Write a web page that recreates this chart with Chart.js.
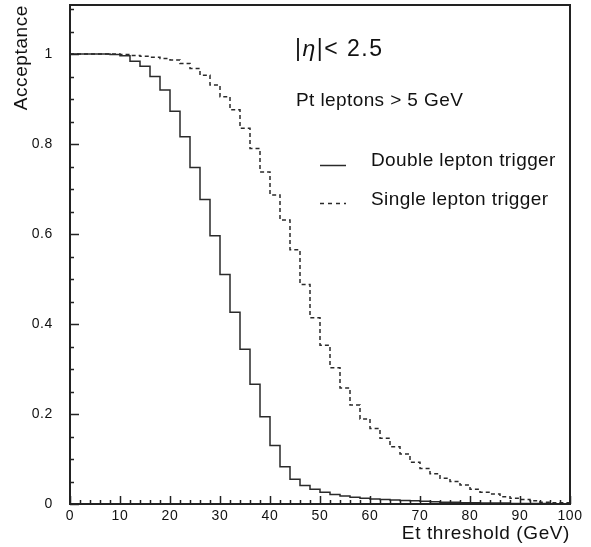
<!DOCTYPE html>
<html>
<head>
<meta charset="utf-8">
<script src="https://cdn.jsdelivr.net/npm/chart.js@4.4.1/dist/chart.umd.min.js"></script>
<style>
  html, body { margin: 0; padding: 0; background: #fff; }
  #wrap { width: 591px; height: 547px; position: relative; }
</style>
</head>
<body>
<div id="wrap"><canvas id="chart-acc"></canvas></div>
<script>
// lower edges of the 2 GeV bins, plus the last upper edge
let bin_edges = [0, 2, 4, 6, 8, 10, 12, 14, 16, 18, 20, 22, 24, 26, 28, 30, 32, 34, 36, 38,
  40, 42, 44, 46, 48, 50, 52, 54, 56, 58, 60, 62, 64, 66, 68, 70, 72, 74, 76, 78,
  80, 82, 84, 86, 88, 90, 92, 94, 96, 98, 100];

// acceptance per bin
let double_trigger = [1.000, 1.000, 1.000, 1.000, 1.000, 0.999, 0.996, 0.984, 0.973, 0.950,
  0.920, 0.873, 0.816, 0.748, 0.677, 0.596, 0.510, 0.426, 0.344, 0.266,
  0.194, 0.130, 0.083, 0.055, 0.041, 0.033, 0.026, 0.021, 0.018, 0.015,
  0.013, 0.011, 0.010, 0.009, 0.008, 0.007, 0.006, 0.005, 0.004, 0.004,
  0.003, 0.003, 0.002, 0.002, 0.002, 0.001, 0.001, 0.001, 0.001, 0.000];

let single_trigger = [1.000, 1.000, 1.000, 1.000, 1.000, 1.000, 0.999, 0.997, 0.995, 0.993,
  0.990, 0.987, 0.979, 0.968, 0.953, 0.931, 0.905, 0.876, 0.835, 0.790,
  0.738, 0.687, 0.631, 0.565, 0.488, 0.414, 0.353, 0.303, 0.258, 0.220,
  0.189, 0.168, 0.146, 0.127, 0.111, 0.093, 0.079, 0.067, 0.057, 0.050,
  0.042, 0.033, 0.026, 0.022, 0.016, 0.013, 0.010, 0.007, 0.004, 0.003];

let x_ticks = [0, 10, 20, 30, 40, 50, 60, 70, 80, 90, 100];
let y_ticks = [0, 0.2, 0.4, 0.6, 0.8, 1];
let y_tick_labels = ['0', '0.2', '0.4', '0.6', '0.8', '1'];

let line_color = '#2a2a2a';
let font_family = '"Liberation Sans", Arial, sans-serif';

// step points: each bin value starts at its lower edge, last one repeated at 100
function to_steps(values) {
  let pts = values.map(function(v, i) { return { x: bin_edges[i], y: v }; });
  pts.push({ x: bin_edges[bin_edges.length - 1], y: values[values.length - 1] });
  return pts;
}

// the old plot font is wide, so spread letters a little for every text
const spacing_plugin = {
  id: 'spacing',
  beforeDraw(chart) {
    chart.ctx.letterSpacing = '0.6px';
  }
};

// draw text pieces one after the other (lets eta be italic)
function draw_pieces(ctx, pieces, x, y) {
  pieces.forEach(function(p) {
    ctx.font = p.font;
    ctx.fillText(p.text, x, y);
    x += ctx.measureText(p.text).width;
  });
}

// frame, inward ticks and the text block inside the plot
const frame_plugin = {
  id: 'frame',
  afterDraw(chart) {
    let ctx = chart.ctx;
    let a = chart.chartArea;
    let xs = chart.scales.x;
    let ys = chart.scales.y;
    ctx.save();
    ctx.strokeStyle = '#222';
    ctx.lineWidth = 1.5;
    ctx.beginPath();
    for (let v = 0; v <= 100; v += 2) {
      let px = Math.round(xs.getPixelForValue(v)) + 0.5;
      let len = (v % 10 === 0) ? 8 : 4;
      ctx.moveTo(px, a.bottom);
      ctx.lineTo(px, a.bottom - len);
    }
    for (let k = 0; k <= 22; k++) {
      let v = k * 0.05;
      let py = Math.round(ys.getPixelForValue(v)) + 0.5;
      let len = (k % 4 === 0) ? 9 : 4;
      ctx.moveTo(a.left, py);
      ctx.lineTo(a.left + len, py);
    }
    ctx.stroke();

    ctx.lineWidth = 2;
    ctx.strokeRect(a.left, a.top, a.right - a.left, a.bottom - a.top);

    // annotation text
    ctx.fillStyle = '#111';
    ctx.textBaseline = 'alphabetic';
    ctx.textAlign = 'left';
    ctx.letterSpacing = '1.5px';
    draw_pieces(ctx, [
      { text: '|', font: '23px ' + font_family },
      { text: '\u03b7', font: 'italic 23px ' + font_family },
      { text: '|< 2.5', font: '23px ' + font_family }
    ], 295, 56);
    ctx.letterSpacing = '0.4px';
    ctx.font = '19px ' + font_family;
    ctx.fillText('Pt leptons > 5 GeV', 296, 106);
    ctx.fillText('Double lepton trigger', 371, 166);
    ctx.fillText('Single lepton trigger', 371, 205);

    // legend samples
    ctx.strokeStyle = line_color;
    ctx.lineWidth = 1.5;
    ctx.beginPath();
    ctx.moveTo(320, 165.5);
    ctx.lineTo(346, 165.5);
    ctx.stroke();
    ctx.setLineDash([4, 4]);
    ctx.beginPath();
    ctx.moveTo(320, 203.5);
    ctx.lineTo(346, 203.5);
    ctx.stroke();
    ctx.restore();
  }
};

let ctx1 = document.getElementById('chart-acc').getContext('2d');

new Chart(ctx1, {
  type: 'line',
  data: {
    datasets: [{
        label: 'Double lepton trigger',
        data: to_steps(double_trigger),
        stepped: 'after',
        borderColor: line_color,
        borderWidth: 1.5,
        pointRadius: 0,
        fill: false
      },
      {
        label: 'Single lepton trigger',
        data: to_steps(single_trigger),
        stepped: 'after',
        borderColor: line_color,
        borderWidth: 1.5,
        borderDash: [4, 3],
        pointRadius: 0,
        fill: false
      }
    ]
  },
  options: {
    responsive: true,
    maintainAspectRatio: false,
    animation: false,
    layout: { padding: { top: 5, right: 21, left: 0, bottom: 0 } },
    plugins: {
      legend: { display: false },
      tooltip: { enabled: false }
    },
    scales: {
      x: {
        type: 'linear',
        min: 0,
        max: 100,
        afterFit: function(scale) {
          scale.height = 43;
          scale.paddingLeft = 0;
          scale.paddingRight = 0;
        },
        afterBuildTicks: function(scale) { scale.ticks = x_ticks.map(v => ({ value: v })); },
        grid: { display: false, drawTicks: false },
        border: { display: false },
        ticks: {
          color: '#111',
          padding: 4,
          maxRotation: 0,
          font: { size: 14, family: font_family }
        },
        title: {
          display: true,
          text: 'Et threshold (GeV)',
          align: 'end',
          color: '#111',
          padding: { top: 0, bottom: 2 },
          font: { size: 19, family: font_family }
        }
      },
      y: {
        type: 'linear',
        min: 0,
        max: 1.109,
        afterFit: function(scale) {
          scale.width = 70;
          scale.paddingTop = 0;
          scale.paddingBottom = 0;
        },
        afterBuildTicks: function(scale) { scale.ticks = y_ticks.map(v => ({ value: v })); },
        grid: { display: false, drawTicks: false },
        border: { display: false },
        ticks: {
          color: '#111',
          padding: 17,
          font: { size: 14, family: font_family },
          callback: function(value) {
            let i = y_ticks.indexOf(value);
            return i >= 0 ? y_tick_labels[i] : '';
          }
        },
        title: {
          display: true,
          text: 'Acceptance',
          align: 'end',
          color: '#111',
          padding: { top: 10, bottom: 0 },
          font: { size: 19, family: font_family }
        }
      }
    }
  },
  plugins: [spacing_plugin, frame_plugin]
});
</script>
</body>
</html>
